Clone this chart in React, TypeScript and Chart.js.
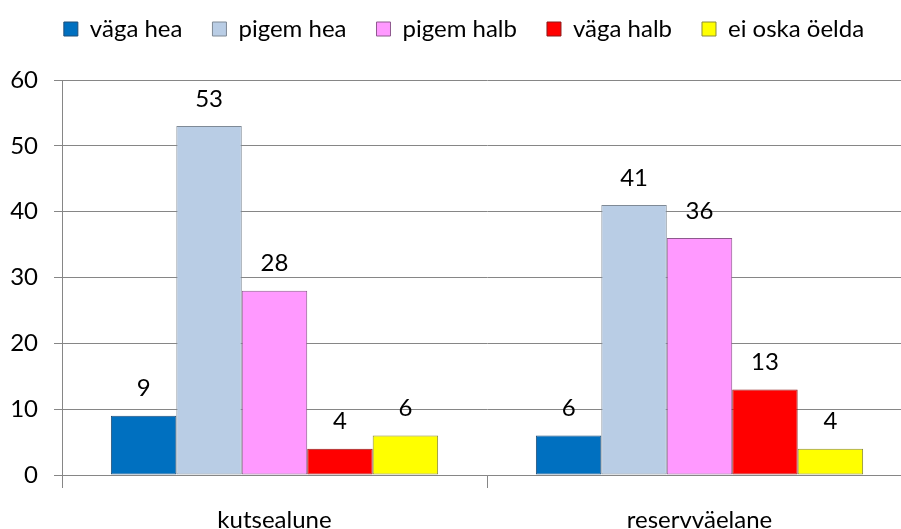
import React, { useEffect, useRef } from "react";
import { Chart, registerables } from "chart.js";

Chart.register(...registerables);

const categories = ["kutsealune", "reservväelane"];
const seriesNames = ["väga hea", "pigem hea", "pigem halb", "väga halb", "ei oska öelda"];
const vagaHea = [9, 6];
const pigemHea = [53, 41];
const pigemHalb = [28, 36];
const vagaHalb = [4, 13];
const eiOska = [6, 4];
const yTicks = [0, 10, 20, 30, 40, 50, 60];

const fills = ["#0070C0", "#B9CDE5", "#FF99FF", "#FF0000", "#FFFF00"];
const borders = ["#1F4E79", "#7F8A96", "#8E5A8E", "#8B1A1A", "#8A8A3A"];
const FONT = "Lato";
const FS = 24;

export default function App() {
  const ref = useRef<HTMLCanvasElement | null>(null);
  useEffect(() => {
    if (!ref.current) return;
    const values = [vagaHea, pigemHea, pigemHalb, vagaHalb, eiOska];
    const labelPlugin = {
      id: "valueLabels",
      afterDatasetsDraw(chart: any) {
        const ctx = chart.ctx;
        ctx.save();
        ctx.font = `${FS}px ${FONT}`;
        ctx.fillStyle = "#000";
        ctx.textAlign = "center";
        ctx.textBaseline = "middle";
        chart.data.datasets.forEach((ds: any, i: number) => {
          const meta = chart.getDatasetMeta(i);
          meta.data.forEach((el: any, j: number) => {
            ctx.fillText(String(ds.data[j]), el.x, el.y - 27);
          });
        });
        ctx.restore();
      },
    };
    const legendFit = {
      id: "legendFit",
      beforeInit(chart: any) {
        const l = chart.legend;
        if (!l) return;
        const f = l.fit;
        l.fit = function () {
          f.call(this);
          this.height = 80;
        };
        const d = l.draw;
        l.draw = function () {
          const ctx = this.ctx;
          ctx.save();
          ctx.translate(8, -13);
          d.call(this);
          ctx.restore();
        };
      },
    };
    const chart = new Chart(ref.current, {
      type: "bar",
      data: {
        labels: categories,
        datasets: seriesNames.map((n, i) => ({
          label: n,
          data: values[i],
          backgroundColor: fills[i],
          borderColor: borders[i],
          borderWidth: 1,
          borderSkipped: false,
          barPercentage: 1,
          categoryPercentage: 0.77,
        })),
      },
      options: {
        responsive: false,
        animation: false,
        layout: { padding: 0 },
        plugins: {
          tooltip: { enabled: false },
          legend: {
            position: "top",
            labels: {
              boxWidth: 14,
              boxHeight: 14,
              padding: 30,
              color: "#000",
              font: { family: FONT, size: FS },
            },
          },
        },
        scales: {
          x: {
            afterFit(axis: any) {
              axis.height = 54;
            },
            grid: {
              offset: true,
              drawOnChartArea: false,
              drawTicks: true,
              tickLength: 13,
              color: "#868686",
            },
            border: { color: "#868686" },
            ticks: {
              color: "#000",
              padding: 18,
              font: { family: FONT, size: FS },
            },
          },
          y: {
            min: 0,
            max: 60,
            afterFit(axis: any) {
              axis.width = 62;
            },
            afterBuildTicks(axis: any) {
              axis.ticks = yTicks.map((v) => ({ value: v }));
            },
            grid: { color: "#868686", tickLength: 8 },
            border: { color: "#868686" },
            ticks: {
              color: "#000",
              padding: 16,
              font: { family: FONT, size: FS },
            },
          },
        },
      },
      plugins: [labelPlugin, legendFit],
    });
    return () => chart.destroy();
  }, []);
  return (
    <div
      style={{
        position: "fixed",
        left: 0,
        top: 0,
        width: 901,
        height: 529,
        overflow: "hidden",
        background: "#fff",
      }}
    >
      <canvas ref={ref} width={912} height={529} style={{ width: 912, height: 529, display: "block" }} />
    </div>
  );
}
